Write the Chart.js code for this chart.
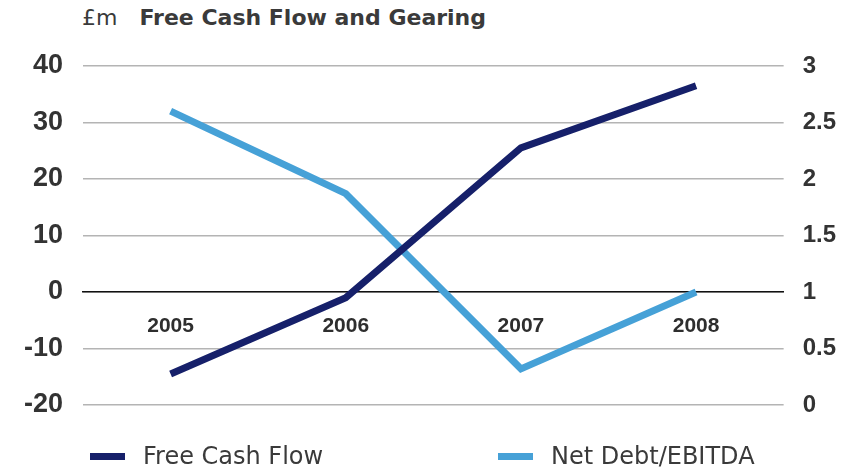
<!DOCTYPE html>
<html>
<head>
<meta charset="utf-8">
<script src="https://cdn.jsdelivr.net/npm/chart.js@4.4.1/dist/chart.umd.min.js"></script>
<style>
  body { margin: 0; background: #fff; }
  #wrap { position: relative; width: 854px; height: 471px; overflow: hidden; }
  #grafico { position: absolute; left: 0; top: 0; }
  #titulo {
    position: absolute; left: 82px; top: 5px;
    font-family: 'DejaVu Sans', sans-serif; font-size: 22px; color: #3a3a3a;
    white-space: nowrap;
  }
  #titulo b { margin-left: 22px; }
  .leg-item {
    position: absolute; top: 440px; height: 32px;
    font-family: 'DejaVu Sans', sans-serif; font-size: 24px; color: #3a3a3a;
    display: flex; align-items: center; white-space: nowrap;
  }
  .leg-box { width: 35px; height: 7px; margin-right: 18px; }
</style>
</head>
<body>
<div id="wrap">
  <div id="titulo">£m<b>Free Cash Flow and Gearing</b></div>
  <canvas id="grafico" width="854" height="471"></canvas>
  <div id="legenda"></div>
</div>
<script>
// anos e séries
const anos = ['2005', '2006', '2007', '2008'];
const fluxoCaixa = [-14.5, -1, 25.5, 36.5];      // £m, eixo esquerdo
const dividaEbitda = [2.6, 1.87, 0.32, 1.0];     // múltiplo, eixo direito
const nomesSeries = ['Free Cash Flow', 'Net Debt/EBITDA'];
const coresSeries = ['#16206a', '#46a1d7'];

const ctx = document.getElementById('grafico').getContext('2d');

const grafico = new Chart(ctx, {
  type: 'line',
  data: {
    labels: anos,
    datasets: [
      {
        label: nomesSeries[0],
        data: fluxoCaixa,
        yAxisID: 'y',
        borderColor: coresSeries[0],
        backgroundColor: coresSeries[0],
        borderWidth: 7,
        pointRadius: 0,
        borderCapStyle: 'butt',
        borderJoinStyle: 'miter',
        order: 1
      },
      {
        label: nomesSeries[1],
        data: dividaEbitda,
        yAxisID: 'y1',
        borderColor: coresSeries[1],
        backgroundColor: coresSeries[1],
        borderWidth: 7,
        pointRadius: 0,
        borderCapStyle: 'butt',
        borderJoinStyle: 'miter',
        order: 2
      }
    ]
  },
  options: {
    responsive: false,
    animation: false,
    layout: { padding: { top: 66, left: 4, right: -1, bottom: 66 } },
    plugins: {
      legend: { display: false },
      tooltip: { enabled: false }
    },
    scales: {
      x: {
        type: 'category',
        offset: true,
        position: { y: 0 },
        grid: { display: false, drawTicks: false },
        border: { display: true, color: '#111', width: 1.5 },
        ticks: {
          padding: 22,
          color: '#2e2e2e',
          font: { family: "'Liberation Sans', Arial, sans-serif", size: 21, weight: 'bold' }
        }
      },
      y: {
        position: 'left',
        min: -20,
        max: 40,
        ticks: {
          stepSize: 10,
          padding: 20,
          color: '#333',
          font: { family: "'Liberation Sans', Arial, sans-serif", size: 27, weight: 'bold' }
        },
        grid: { color: '#b4b4b4', lineWidth: 1.5, drawTicks: false },
        border: { display: false }
      },
      y1: {
        position: 'right',
        min: 0,
        max: 3,
        ticks: {
          stepSize: 0.5,
          padding: 19,
          color: '#333',
          font: { family: "'Liberation Sans', Arial, sans-serif", size: 24, weight: 'bold' },
          callback: (valor) => String(valor)
        },
        grid: { display: false, drawTicks: false },
        border: { display: false }
      }
    }
  }
});

// legenda em HTML, a partir dos datasets do gráfico
const legenda = document.getElementById('legenda');
const posLegenda = [90, 498];
grafico.data.datasets.forEach((ds, i) => {
  const item = document.createElement('div');
  item.className = 'leg-item';
  item.style.left = posLegenda[i] + 'px';
  const caixa = document.createElement('span');
  caixa.className = 'leg-box';
  caixa.style.background = ds.borderColor;
  const texto = document.createElement('span');
  texto.textContent = ds.label;
  item.appendChild(caixa);
  item.appendChild(texto);
  legenda.appendChild(item);
});
</script>
</body>
</html>
